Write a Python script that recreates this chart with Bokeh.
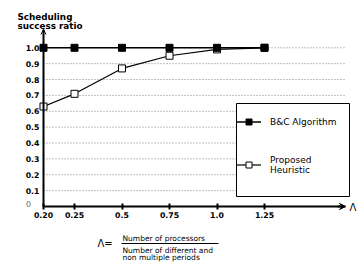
from bokeh.plotting import figure
from bokeh.models import (Range1d, FixedTicker, Label, Arrow, OpenHead, VeeHead,
                          Legend, LegendItem, BoxAnnotation)
from bokeh.embed import file_html
from bokeh.resources import INLINE

# ---------------- data ----------------
lam_labels = ["0.20", "0.25", "0.5", "0.75", "1.0", "1.25"]
lam = [0.20, 0.25, 0.5, 0.75, 1.0, 1.25]
bc_ratio = [1.0, 1.0, 1.0, 1.0, 1.0, 1.0]
heur_ratio = [0.63, 0.71, 0.87, 0.95, 0.99, 1.0]
y_ticks = [0.0, 0.1, 0.2, 0.3, 0.4, 0.5, 0.6, 0.7, 0.8, 0.9, 1.0]
y_labels = ["0", "0.1", "0.2", "0.3", "0.4", "0.5", "0.6", "0.7", "0.8", "0.9", "1.0"]
series_names = ["B&C Algorithm", "Proposed\nHeuristic"]

# ---------------- layout ----------------
W, H = 358, 263
PX_PER_X = 190.0           # pixels per lambda unit
PX_PER_Y = 158.7           # pixels per ratio unit
OX, OY = 43, 206           # axis origin in canvas pixels
X0 = lam[1] - 31 / PX_PER_X  # broken axis: the origin carries the first value


def xd(px):  # canvas pixel -> data x
    return X0 + (px - OX) / PX_PER_X


def yd(py):  # canvas pixel -> data y
    return (OY - py) / PX_PER_Y


X1 = xd(345)   # end of x axis arrow
Y1 = yd(29)    # end of y axis arrow

# the first lambda (0.20) is drawn at the (broken) axis origin
x_pos = [X0] + lam[1:]

FONT = "DejaVu Sans"

p = figure(width=W, height=H, x_range=Range1d(xd(0), xd(W)),
           y_range=Range1d(yd(H), yd(0)), output_backend="svg",
           toolbar_location=None, title=None, min_border=0)
p.outline_line_color = None
p.xgrid.visible = False
p.ygrid.visible = False

# dotted horizontal grid, limited to the axis extent
grid_y = y_ticks[1:]
p.segment(x0=[X0] * len(grid_y), y0=grid_y, x1=[X1] * len(grid_y), y1=grid_y,
          line_color="#808080", line_dash="1 2", line_width=1)

# x axis (drawn at y = 0)
xa = p.xaxis[0]
xa.fixed_location = 0
xa.bounds = (X0, X1)
xa.ticker = FixedTicker(ticks=x_pos)
xa.major_label_overrides = {x: l for x, l in zip(x_pos, lam_labels)}
xa.major_tick_in = 3
xa.major_tick_out = 3
xa.major_tick_line_width = 2
xa.minor_tick_line_color = None
xa.axis_line_width = 2
xa.major_label_standoff = 2
xa.major_label_text_font = FONT
xa.major_label_text_font_style = "bold"
xa.major_label_text_font_size = "7.8px"
xa.major_label_text_color = "black"

# y axis (drawn at the x origin)
ya = p.yaxis[0]
ya.fixed_location = X0
ya.bounds = (0, Y1)
ya.ticker = FixedTicker(ticks=y_ticks)
ov = {t: l for t, l in zip(y_ticks, y_labels)}
ov[y_ticks[0]] = ""
ya.major_label_overrides = ov
ya.major_tick_in = 0
ya.major_tick_out = 0
ya.minor_tick_line_color = None
ya.axis_line_width = 2
ya.major_label_standoff = 4
ya.major_label_text_font = FONT
ya.major_label_text_font_style = "bold"
ya.major_label_text_font_size = "7.8px"
ya.major_label_text_color = "black"

# series
r_h_line = p.line(x_pos, heur_ratio, line_color="black", line_width=1.2)
r_h_pts = p.scatter(x_pos, heur_ratio, marker="square", size=7,
                    fill_color="white", line_color="black", line_width=1)
r_bc_line = p.line(x_pos, bc_ratio, line_color="black", line_width=1.5)
r_bc_pts = p.scatter(x_pos, bc_ratio, marker="square", size=7,
                     fill_color="black", line_color="black")

# legend frame + legend
p.add_layout(BoxAnnotation(left=xd(236), right=xd(349), top=yd(103), bottom=yd(196),
                           fill_color="white", fill_alpha=1,
                           line_color="black", line_width=1, line_alpha=1))
legend = Legend(items=[
    LegendItem(label=series_names[0], renderers=[r_bc_line, r_bc_pts]),
    LegendItem(label=series_names[1], renderers=[r_h_line, r_h_pts]),
], location=(236, H - 174.5))
legend.border_line_color = None
legend.background_fill_alpha = 0
legend.label_text_font = FONT
legend.label_text_font_size = "9px"
legend.label_text_color = "black"
legend.glyph_width = 25
legend.glyph_height = 15
legend.label_height = 20
legend.label_standoff = 9
legend.padding = 8
legend.spacing = 23
legend.margin = 0
p.add_layout(legend)

# axis arrows
p.add_layout(Arrow(end=VeeHead(size=6, fill_color="black", line_color="black"),
                   x_start=xd(337), y_start=0, x_end=X1, y_end=0,
                   line_width=2, line_color="black"))
p.add_layout(Arrow(end=OpenHead(size=5, line_width=1, line_color="black"),
                   x_start=X0, y_start=yd(41), x_end=X0, y_end=Y1,
                   line_width=1, line_color="black"))


def text_at(text, px, py, size, **kw):
    opts = dict(text_font=FONT, text_font_size=size, text_color="black",
                text_baseline="middle")
    opts.update(kw)
    p.add_layout(Label(x=xd(px), y=yd(py), text=text, **opts))


# axis titles
text_at("Scheduling", 17, 16.7, "8.8px", text_font_style="bold",
        text_baseline="alphabetic")
text_at("success ratio", 17, 25.7, "8.8px", text_font_style="bold",
        text_baseline="alphabetic")
text_at(y_labels[0], 28, 203, "7.8px", text_align="center", text_color="#555555")
text_at("Λ", 349, 207, "10px")

# formula
text_at("Λ=", 97, 243, "10px")
text_at("Number of processors", 122, 238, "7.5px")
text_at("Number of different and", 122, 250, "7.5px")
text_at("non multiple periods", 122, 257, "7.5px")
p.add_layout(Arrow(start=None, end=None, x_start=xd(121), y_start=yd(243),
                   x_end=xd(218), y_end=yd(243), line_width=1, line_color="black"))

open("out.html", "w").write(file_html(p, INLINE))
